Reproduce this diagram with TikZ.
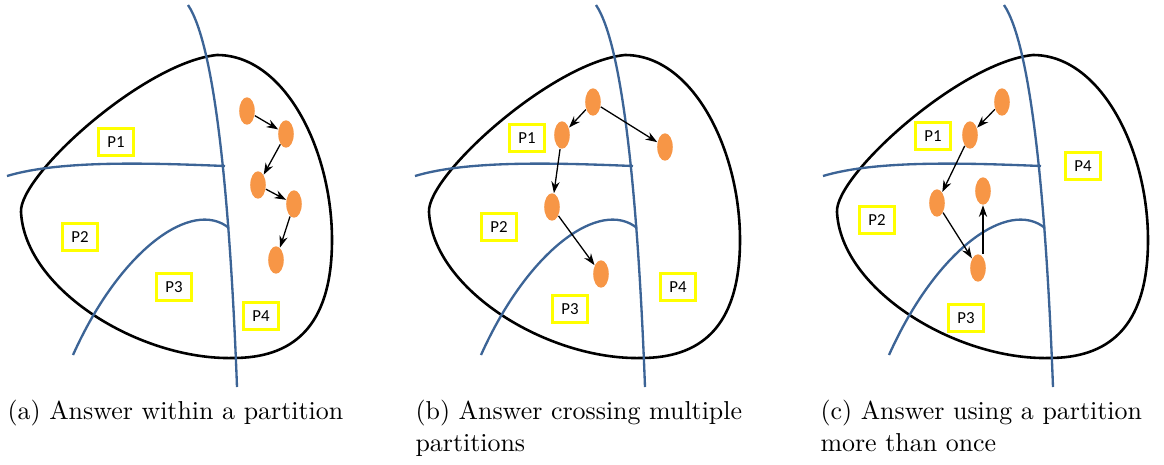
\documentclass[tikz,border=0pt]{standalone}
\usepackage{fontspec}
\newfontfamily\labelfont{Carlito}
\usetikzlibrary{shapes.geometric,arrows.meta}
\definecolor{lineblue}{RGB}{60,100,150}
\definecolor{dotorange}{RGB}{247,150,70}
\definecolor{boxyellow}{RGB}{255,255,0}

\begin{document}
\begin{tikzpicture}[x=0.386pt, y=-0.386pt,
  region/.style={draw=black, line width=1pt},
  divider/.style={draw=lineblue, line width=0.9pt},
  dot/.style={ellipse, fill=dotorange, minimum width=6pt, minimum height=10.6pt, inner sep=0pt},
  plabel/.style={draw=boxyellow, line width=1pt, minimum width=13.5pt, minimum height=10.5pt, inner sep=0pt, font=\labelfont\fontsize{6.5}{7}\selectfont},
  flow/.style={-{Stealth[length=4.5pt,width=3.2pt]}, line width=0.5pt},
  capt/.style={anchor=north west, text width=131pt, align=left, inner sep=0pt}]
\useasboundingbox (0,0) rectangle (1164,464);

% the data region and its partitions, once per panel
\foreach \dx in {0,408,816}{
  \begin{scope}[shift={(\dx,0)}]
    \draw[region] (217,55) .. controls (285,55) and (332,150) .. (332,240)
      .. controls (332,330) and (290,358) .. (233,358)
      .. controls (140,360) and (25,290) .. (21,212)
      .. controls (19,175) and (145,62) .. cycle;
    \draw[divider] (188,5) .. controls (215,45) and (230,200) .. (237,387);
    \draw[divider] (7,176) .. controls (60,160) and (150,163) .. (225,166);
    \draw[divider] (73,355) .. controls (120,250) and (192,198) .. (229,228);
  \end{scope}
}

% (a)
\node[plabel] (aP1) at (116,142) {P1};
\node[plabel] (aP2) at (80,237) {P2};
\node[plabel] (aP3) at (174,287) {P3};
\node[plabel] (aP4) at (261,316) {P4};
\node[dot] (a1) at (247,111) {};
\node[dot] (a2) at (286,134) {};
\node[dot] (a3) at (258,185) {};
\node[dot] (a4) at (294,204) {};
\node[dot] (a5) at (276,260) {};
\draw[flow] (a1) -- (a2);
\draw[flow] (a2) -- (a3);
\draw[flow] (a3) -- (a4);
\draw[flow] (a4) -- (a5);

% (b)
\node[plabel] (bP1) at (527,138) {P1};
\node[plabel] (bP2) at (499,227) {P2};
\node[plabel] (bP3) at (570,309) {P3};
\node[plabel] (bP4) at (678,287) {P4};
\node[dot] (b1) at (593,102) {};
\node[dot] (b2) at (562,135) {};
\node[dot] (b3) at (665,147) {};
\node[dot] (b4) at (552,207) {};
\node[dot] (b5) at (601,274) {};
\draw[flow] (b1) -- (b2);
\draw[flow] (b1) -- (b3);
\draw[flow] (b2) -- (b4);
\draw[flow] (b4) -- (b5);

% (c)
\node[plabel] (cP1) at (933,136) {P1};
\node[plabel] (cP2) at (877,220) {P2};
\node[plabel] (cP3) at (966,318) {P3};
\node[plabel] (cP4) at (1083,166) {P4};
\node[dot] (c1) at (1002,102) {};
\node[dot] (c2) at (970,135) {};
\node[dot] (c3) at (937,203) {};
\node[dot] (c4) at (978,268) {};
\node[dot] (c5) at (983,191) {};
\draw[flow] (c1) -- (c2);
\draw[flow] (c2) -- (c3);
\draw[flow] (c3) -- (c4);
\draw[flow] (c5.south |- c4.north) -- (c5.south);

% captions
\node[capt] (capa) at (7,400) {(a) Answer within a partition};
\node[capt] (capb) at (415,400) {(b) Answer crossing multiple partitions};
\node[capt] (capc) at (820,400) {(c) Answer using a partition more than once};
\end{tikzpicture}
\end{document}
